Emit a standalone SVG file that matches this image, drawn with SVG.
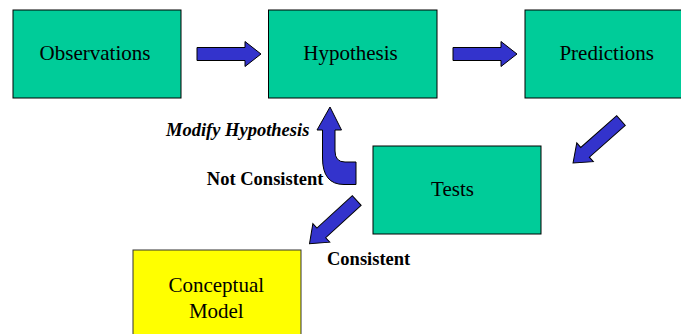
<svg xmlns="http://www.w3.org/2000/svg" xmlns:xlink="http://www.w3.org/1999/xlink" width="681" height="334" viewBox="0 0 681 334">
<style>
.box{fill:#00CC99;stroke:#000;stroke-width:1}
.ybox{fill:#FFFF00;stroke:#333;stroke-width:1}
.lbl{font-size:21px;fill:#000;text-anchor:middle}
.note{font-size:18.5px;font-weight:bold;fill:#000}
.arr{fill:#3333CC;stroke:#000;stroke-width:1;stroke-linejoin:miter}
</style>
<defs>
<path id="blk" d="M0,-6.5 H48 V-12.5 L64,0 L48,12.5 V6.5 H0 Z"/>
</defs>
<rect width="681" height="334" fill="#fff"/>
<g id="connectors">
<use xlink:href="#blk" class="arr" transform="translate(197,54)"/>
<use xlink:href="#blk" class="arr" transform="translate(453,54)"/>
<use xlink:href="#blk" class="arr" transform="translate(621,120.5) rotate(138.5)"/>
<use xlink:href="#blk" class="arr" transform="translate(356.7,200.5) rotate(137.5)"/>
<path class="arr" d="M330,107 L341.5,130 L335,130 L335,151 Q335,162 345,162 L356,162 L356,184.5 L344,184.5 Q322.5,184.5 322.5,158 L322.5,130 L317,130 Z"/>
<g font-family="'Liberation Serif', 'DejaVu Serif', serif">
<text class="note" x="166" y="136" font-style="italic">Modify Hypothesis</text>
<text class="note" x="323.5" y="185" text-anchor="end">Not Consistent</text>
<text class="note" x="327" y="264.5">Consistent</text>
</g>
</g>
<g font-family="'Liberation Serif', 'DejaVu Serif', serif">
<g id="observations">
<rect class="box" x="13" y="10" width="168" height="88"/>
<text class="lbl" x="95" y="60">Observations</text>
</g>
<g id="hypothesis">
<rect class="box" x="268.5" y="10" width="168.5" height="88"/>
<text class="lbl" x="350.5" y="60">Hypothesis</text>
</g>
<g id="predictions">
<rect class="box" x="525" y="10" width="169" height="88"/>
<text class="lbl" x="606.7" y="60">Predictions</text>
</g>
<g id="tests">
<rect class="box" x="373" y="146" width="168" height="88"/>
<text class="lbl" x="452.5" y="196">Tests</text>
</g>
<g id="conceptual-model">
<rect class="ybox" x="133" y="250" width="168" height="90"/>
<text class="lbl" x="216.3" y="291.7">Conceptual</text>
<text class="lbl" x="216.3" y="318.3">Model</text>
</g>
</g>
</svg>
